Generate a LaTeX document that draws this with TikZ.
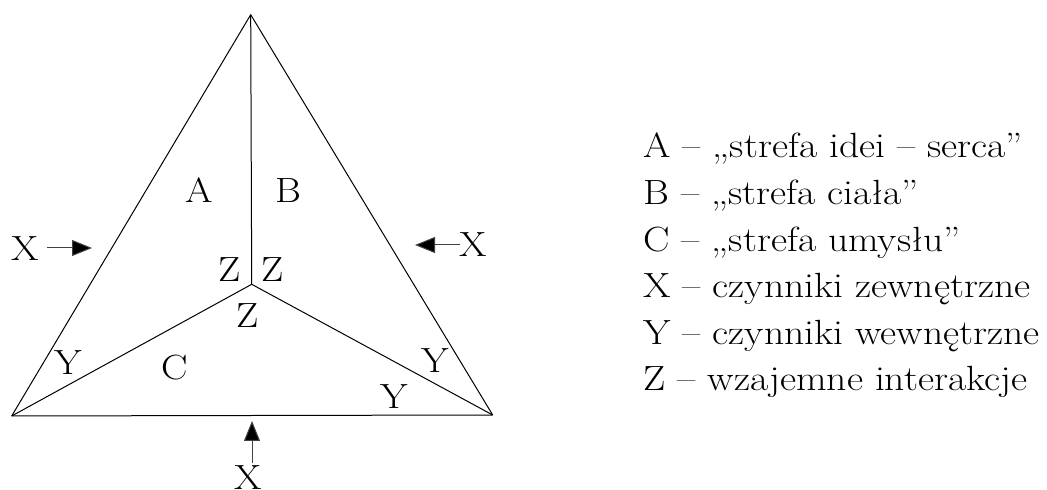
\documentclass[tikz,border=0pt]{standalone}
\usepackage{fontspec}
\newfontfamily\legfont[FakeStretch=1.13]{Latin Modern Roman}
\usetikzlibrary{arrows.meta}
\begin{document}
\begin{tikzpicture}[x=0.5pt,y=-0.5pt,
  edge/.style={line width=0.5pt,draw=black},
  lbl/.style={anchor=base,inner sep=0pt,font=\legfont\fontsize{17.5}{21}\selectfont},
  leg/.style={anchor=base west,inner sep=0pt,font=\legfont\fontsize{17.5}{21}\selectfont},
  arr/.style={line width=0.5pt,draw=black!75,-{Triangle[length=10pt,width=8pt,fill=black]}}]
\useasboundingbox (0,0) rectangle (1047,490);
% corners
\coordinate (T) at (250.7,14.7);
\coordinate (L) at (11.7,416);
\coordinate (R) at (492.7,415);
\coordinate (O) at (251.7,284.3);
\draw[edge] (T) -- (L);
\draw[edge] (T) -- (R);
\draw[edge] (L) -- (R);
\draw[edge] (T) -- (O);
\draw[edge] (O) -- (L);
\draw[edge] (O) -- (R);
% labels
\node[lbl] (A) at (199.3,202.7) {A};
\node[lbl] (B) at (288.7,203) {B};
\node[lbl] (C) at (175,380) {C};
\node[lbl] (Z1) at (230,281.7) {Z};
\node[lbl] (Z2) at (272.7,281.7) {Z};
\node[lbl] (Z3) at (247.7,327.7) {Z};
\node[lbl] (Y1) at (68.7,375) {Y};
\node[lbl] (Y2) at (435,373) {Y};
\node[lbl] (Y3) at (394.3,409) {Y};
\node[lbl] (X1) at (25,261) {X};
\node[lbl] (X2) at (473.3,257) {X};
\node[lbl] (X3) at (248.3,489) {X};
% arrows
\coordinate (a1s) at (47,248);
\coordinate (a1e) at (92,248);
\coordinate (a2s) at (460,245);
\coordinate (a2e) at (415,245);
\coordinate (a3s) at (252,463);
\coordinate (a3e) at (252,421);
\draw[arr] (a1s) -- (a1e);
\draw[arr] (a2s) -- (a2e);
\draw[arr] (a3s) -- (a3e);
% legend
\node[leg] (l1) at (643,158) {A – „strefa idei – serca”};
\node[leg] (l2) at (643,204.6) {B – „strefa ciała”};
\node[leg] (l3) at (643,251.2) {C – „strefa umysłu”};
\node[leg] (l4) at (643,297.8) {X – czynniki zewnętrzne};
\node[leg] (l5) at (643,344.4) {Y – czynniki wewnętrzne};
\node[leg] (l6) at (643,391) {Z – wzajemne interakcje};
\end{tikzpicture}
\end{document}
